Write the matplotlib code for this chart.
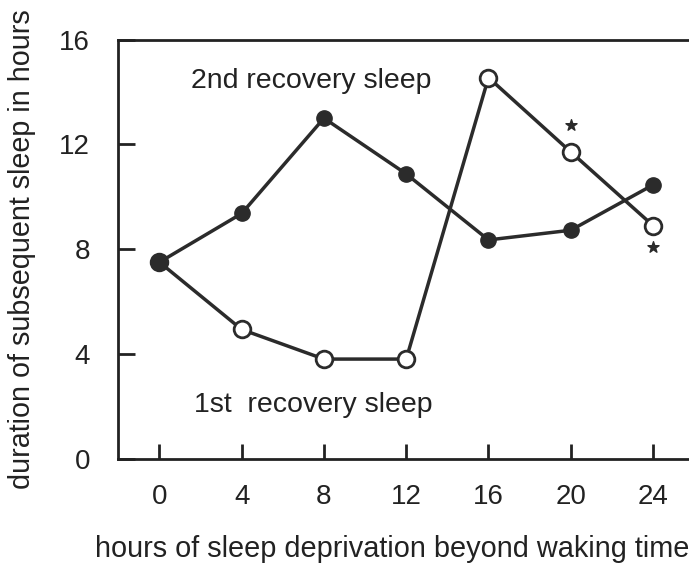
import matplotlib
matplotlib.use("Agg")
import matplotlib.pyplot as plt

hours = [0, 4, 8, 12, 16, 20, 24]
second_recovery = [7.5, 9.36, 13.0, 10.87, 8.35, 8.72, 10.45]
first_recovery = [7.5, 4.93, 3.8, 3.8, 14.55, 11.71, 8.9]
star_x = [20, 24]
star_y = [12.74, 8.08]
yticks = [0, 4, 8, 12, 16]

plt.rcParams['font.family'] = ['Liberation Sans', 'DejaVu Sans']
fig = plt.figure(figsize=(6.89, 5.64), dpi=100)
ax = fig.add_axes([0.1708, 0.1869, 1.0 - 0.1708, 0.9298 - 0.1869])

col = '#2b2b2b'
ax.plot(hours, first_recovery, '-o', color=col, lw=2.5, ms=12,
        markerfacecolor='white', markeredgecolor=col, markeredgewidth=2.0, zorder=3)
ax.plot(hours, second_recovery, '-o', color=col, lw=2.5, ms=11,
        markerfacecolor=col, markeredgecolor=col, zorder=4)
ax.scatter(star_x, star_y, marker='*', s=70, color=col, zorder=5)

ax.text(7.37, 14.41, '2nd recovery sleep', fontsize=20.5, ha='center', va='center', color='#222222')
ax.text(7.46, 2.06, '1st  recovery sleep', fontsize=20.5, ha='center', va='center', color='#222222')

ax.set_xlim(-2.03, 25.75)
ax.set_ylim(0, 16)
ax.set_xticks(hours)
ax.set_yticks(yticks)
ax.tick_params(axis='both', direction='in', width=2, colors='#222222', labelsize=20)
ax.tick_params(axis='x', length=11, pad=18)
ax.tick_params(axis='y', length=12, pad=20)
ax.spines['right'].set_visible(False)
for s in ['left', 'bottom', 'top']:
    ax.spines[s].set_linewidth(2)
    ax.spines[s].set_color('#222222')

fig.text(392 / 689, 1 - 548.6 / 564, 'hours of sleep deprivation beyond waking time',
         fontsize=20.8, ha='center', va='center', color='#222222')
fig.text(22 / 689, 1 - 249 / 564, 'duration of subsequent sleep in hours',
         fontsize=20.7, ha='center', va='center', rotation=90, color='#222222')

fig.savefig('out.png', dpi=100)
